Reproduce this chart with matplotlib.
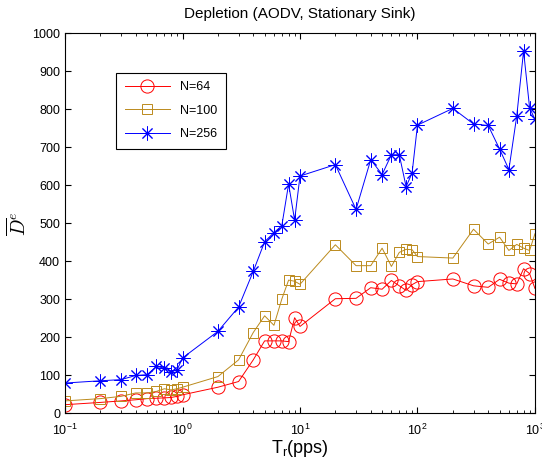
import matplotlib
matplotlib.use('Agg')
import matplotlib.pyplot as plt
import numpy as np

plt.rcParams['font.family'] = ['Liberation Sans', 'DejaVu Sans']

# Traffic rate (pps)
tr = [0.1, 0.2, 0.3, 0.4, 0.5, 0.6, 0.7, 0.8, 0.9, 1,
      2, 3, 4, 5, 6, 7, 8, 9, 10,
      20, 30, 40, 50, 60, 70, 80, 90, 100,
      200, 300, 400, 500, 600, 700, 800, 900, 1000]

n64 = [22, 28, 32, 35, 38, 39, 40, 41, 44, 48,
       68, 83, 140, 190, 190, 190, 188, 251, 228,
       301, 302, 330, 326, 349, 335, 323, 338, 346,
       353, 335, 331, 352, 342, 340, 380, 367, 328]

n100 = [32, 38, 44, 53, 53, 57, 64, 61, 64, 68,
        96, 140, 212, 256, 231, 300, 350, 347, 339,
        443, 388, 388, 434, 386, 423, 431, 430, 412,
        408, 484, 445, 463, 428, 444, 434, 428, 472]

n256 = [79, 85, 88, 99, 101, 123, 118, 108, 114, 145,
        215, 279, 373, 451, 475, 493, 603, 508, 624,
        654, 536, 667, 628, 680, 680, 596, 632, 758,
        802, 761, 757, 695, 641, 782, 953, 804, 773]

fig = plt.figure(figsize=(5.42, 4.61), dpi=100)
ax = fig.add_axes([0.12, 0.104, 0.867, 0.824])

ax.plot(tr, n64, '-o', color='#ff0000', lw=0.7, ms=9.5, mfc='none', mew=0.7, label='N=64')
ax.plot(tr, n100, '-s', color='#bb8a1c', lw=0.7, ms=7.5, mfc='none', mew=0.7, label='N=100')
# MATLAB-style asterisk marker (8 arms)
ax.plot(tr, n256, '-', marker=(8, 2, 0), color='#0000ff', lw=0.7, ms=10, mew=0.7, label='N=256')

ax.set_xscale('log')
ax.set_xlim(0.1, 1000)
ax.set_ylim(0, 1000)
ax.set_yticks(np.arange(0, 1001, 100))
ax.tick_params(which='both', direction='in', top=True, right=True, labelsize=9)
ax.tick_params(which='major', length=4)
ax.tick_params(which='minor', length=2)
ax.tick_params(axis='x', pad=7)

ax.set_title('Depletion (AODV, Stationary Sink)', fontsize=11, pad=11)
ax.set_xlabel('T$_\\mathregular{r}$(pps)', fontsize=13, labelpad=0)
ax.set_ylabel(r'$\overline{D}^e$', fontsize=14, math_fontfamily='cm', labelpad=2)

leg = ax.legend(loc='upper left', bbox_to_anchor=(0.108, 0.896), borderaxespad=0, fontsize=9,
                fancybox=False, framealpha=1, edgecolor='black',
                borderpad=0.7, labelspacing=0.9, handlelength=3.6)
leg.get_frame().set_linewidth(0.8)

fig.savefig('out.png', dpi=100)
